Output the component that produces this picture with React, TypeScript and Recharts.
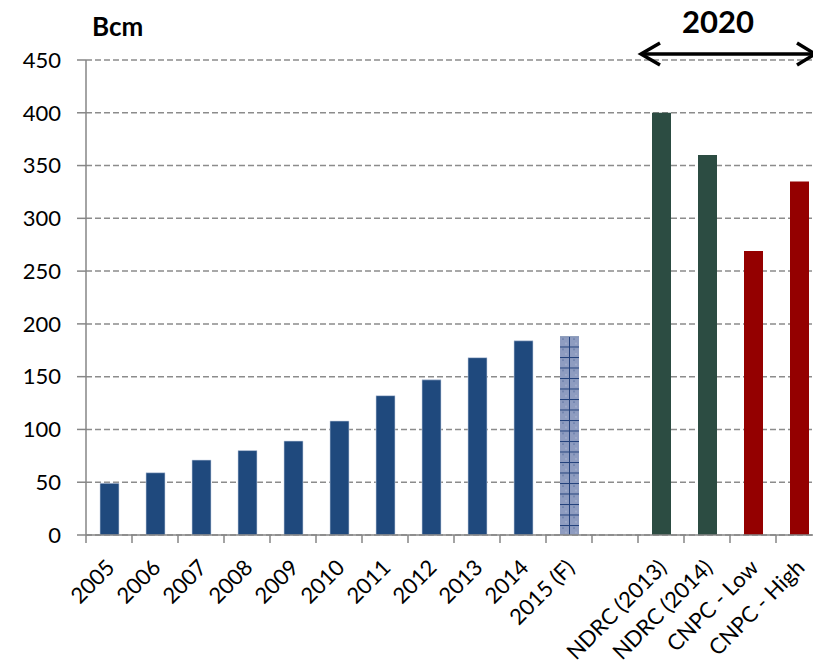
import React from 'react';
import { BarChart, Bar, XAxis, YAxis, CartesianGrid, Cell } from 'recharts';

const categories = ['2005', '2006', '2007', '2008', '2009', '2010', '2011', '2012', '2013', '2014', '2015 (F)', ' ', 'NDRC (2013)', 'NDRC (2014)', 'CNPC - Low', 'CNPC - High'];
const values = [49, 59, 71, 80, 89, 108, 132, 147, 168, 184, 188, null, 400, 360, 269, 335];
const groups = ['hist', 'hist', 'hist', 'hist', 'hist', 'hist', 'hist', 'hist', 'hist', 'hist', 'forecast', 'none', 'ndrc', 'ndrc', 'cnpc', 'cnpc'];
const yTicks = [0, 50, 100, 150, 200, 250, 300, 350, 400, 450];
const unitLabel = 'Bcm';
const periodLabel = '2020';

const data = categories.map((name, i) => ({ name, value: values[i], group: groups[i] }));

const FONT = 'Lato, "Open Sans", sans-serif';
const AXIS = '#868686';
const fills: Record<string, string> = {
  hist: '#1F497D',
  forecast: 'url(#fcPattern)',
  none: 'transparent',
  ndrc: '#2C4C42',
  cnpc: '#940000',
};

const XTick = (props: any) => {
  const { x, y, payload, index } = props;
  const off = payload && typeof payload.offset === 'number' && payload.offset > 0 ? payload.offset : 23;
  const last = index === categories.length - 1;
  const tx = x + 7;
  const ty = y + 34;
  return (
    <g>
      <line x1={x - off} x2={x - off} y1={y} y2={y + 8} stroke={AXIS} strokeWidth={1.5} />
      {last && <line x1={x + off} x2={x + off} y1={y} y2={y + 8} stroke={AXIS} strokeWidth={1.5} />}
      <text x={tx} y={ty} transform={`rotate(-45, ${tx}, ${ty})`} textAnchor="end" fontSize={22} fontFamily={FONT} fill="#000">
        {payload.value}
      </text>
    </g>
  );
};

export default function App() {
  return (
    <div style={{ position: 'absolute', left: 0, top: 0, width: 813, height: 668, overflow: 'hidden', background: '#fff' }}>
      <BarChart width={830} height={668} data={data} margin={{ top: 60, right: 8, left: 0, bottom: 0 }} barSize={19}>
        <defs>
          <pattern id="fcPattern" patternUnits="userSpaceOnUse" width={20} height={10.5}>
            <rect x={0} y={0} width={20} height={10.5} fill="#8E9CC0" />
            <circle cx={3} cy={3} r={0.8} fill="#6478a6" />
            <circle cx={14} cy={3} r={0.8} fill="#6478a6" />
            <circle cx={6} cy={7.5} r={0.8} fill="#aab5d2" />
            <circle cx={16} cy={7.5} r={0.8} fill="#aab5d2" />
            <line x1={0} x2={20} y1={0.5} y2={0.5} stroke="#22407A" strokeWidth={1} />
            <line x1={9.5} x2={9.5} y1={0} y2={10.5} stroke="#22407A" strokeWidth={1} />
          </pattern>
        </defs>
        <CartesianGrid vertical={false} stroke="#8C8C8C" strokeDasharray="6 3" strokeWidth={1.5} />
        <XAxis
          dataKey="name"
          interval={0}
          height={133}
          tickLine={false}
          tickSize={0}
          tickMargin={0}
          axisLine={{ stroke: AXIS, strokeWidth: 1.5 }}
          tick={<XTick />}
        />
        <YAxis
          domain={[0, 450]}
          ticks={yTicks}
          width={86}
          tickSize={9}
          tickMargin={16}
          axisLine={{ stroke: AXIS, strokeWidth: 1.5 }}
          tickLine={{ stroke: AXIS, strokeWidth: 1.5 }}
          tick={{ fontSize: 22, fontFamily: FONT, fill: '#000' }}
          interval={0}
        />
        <Bar dataKey="value" isAnimationActive={false} stroke="#C9D3E6" strokeWidth={0.6}>
          {data.map((d, i) => (
            <Cell key={i} fill={fills[d.group]} stroke={d.group === 'hist' ? '#C9D3E6' : 'none'} />
          ))}
        </Bar>
      </BarChart>
      <svg width={813} height={668} style={{ position: 'absolute', left: 0, top: 0, pointerEvents: 'none' }}>
        <text x={92} y={36} fontSize={26} fontWeight="bold" fontFamily={FONT} fill="#000">{unitLabel}</text>
        <text x={718} y={33} fontSize={31} fontWeight="bold" fontFamily={FONT} fill="#000" textAnchor="middle">{periodLabel}</text>
        <line x1={642} x2={814} y1={54} y2={54} stroke="#000" strokeWidth={3.5} />
        <polyline points="660,43 641,54 660,65" fill="none" stroke="#000" strokeWidth={3.5} />
        <polyline points="797,43 815,54 797,65" fill="none" stroke="#000" strokeWidth={3.5} />
      </svg>
    </div>
  );
}
